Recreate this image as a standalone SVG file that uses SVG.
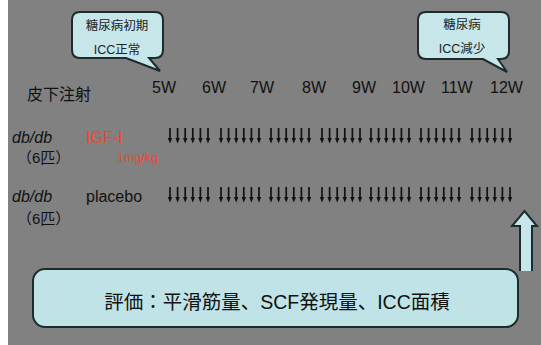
<svg xmlns="http://www.w3.org/2000/svg" xmlns:xlink="http://www.w3.org/1999/xlink" width="541" height="345" viewBox="0 0 541 345">
<style>
text{font-family:"Liberation Sans","Noto Sans CJK JP",sans-serif;fill:#111}
.bub{fill:#c6e6ea;stroke:#1c2b2b;stroke-width:2}
.bt{font-size:12.5px;text-anchor:middle;fill:#222}
.wk{font-size:16px}
.it{font-size:16px;font-style:italic}
.red{fill:#f0462e}
.ar line{stroke:#111;stroke-width:1.7}
.ar polygon{fill:#111}
</style>
<defs>
<g id="a" class="ar"><line x1="2" y1="0" x2="2" y2="11"/><polygon points="-0.2,10 4.2,10 2,15.5"/></g>
<g id="g6"><use xlink:href="#a"/><use xlink:href="#a" x="7.6"/><use xlink:href="#a" x="15.2"/><use xlink:href="#a" x="22.8"/><use xlink:href="#a" x="30.4"/><use xlink:href="#a" x="38"/></g>
<g id="row"><use xlink:href="#g6" x="168"/><use xlink:href="#g6" x="219"/><use xlink:href="#g6" x="269"/><use xlink:href="#g6" x="320"/><use xlink:href="#g6" x="369"/><use xlink:href="#g6" x="419"/><use xlink:href="#g6" x="470"/></g>
</defs>
<rect x="0" y="0" width="541" height="345" fill="#fff"/>
<rect x="8" y="0" width="533" height="345" fill="#818181"/>

<g id="callout1">
<path class="bub" d="M80,12 H155 Q163,12 163,20 V50 Q163,58 155,58 H149 L160,71 L126,58 H80 Q72,58 72,50 V20 Q72,12 80,12 Z"/>
<text class="bt" x="117" y="30">糖尿病初期</text>
<text class="bt" x="117" y="54">ICC正常</text>
</g>
<g id="callout2">
<path class="bub" d="M426,12 H501 Q509,12 509,20 V51 Q509,59 501,59 H498 L507,72 L483,59 H426 Q418,59 418,51 V20 Q418,12 426,12 Z"/>
<text class="bt" x="462" y="29">糖尿病</text>
<text class="bt" x="462" y="53">ICC減少</text>
</g>

<g id="weeks" class="wk">
<text x="152" y="93">5W</text>
<text x="202" y="93">6W</text>
<text x="250" y="93">7W</text>
<text x="302" y="93">8W</text>
<text x="352" y="93">9W</text>
<text x="392" y="93">10W</text>
<text x="441" y="93">11W</text>
<text x="490" y="93">12W</text>
</g>
<text x="27" y="100" style="font-size:16px">皮下注射</text>

<g id="igf">
<text class="it" x="12" y="143">db/db</text>
<text x="17" y="163" style="font-size:15px">（6匹）</text>
<text class="red" x="86" y="143" style="font-size:16px">IGF-I</text>
<text class="red" x="117" y="162" style="font-size:12.5px">1mg/kg</text>
<use xlink:href="#row" y="128"/>
</g>
<g id="placebo">
<text class="it" x="12" y="202">db/db</text>
<text x="17" y="224" style="font-size:15px">（6匹）</text>
<text x="86" y="202" style="font-size:16px">placebo</text>
<use xlink:href="#row" y="187"/>
</g>

<g id="connectors">
<path d="M520,271 V226 H512 L524.5,211 L537,226 H532 V271" fill="#c6e6ea" stroke="#1c2b2b" stroke-width="2"/>
</g>
<g id="eval">
<rect x="33" y="269" width="485" height="58" rx="12" fill="#bfe3e6" stroke="#1c2b2b" stroke-width="2"/>
<text x="277" y="309" style="font-size:19.5px" text-anchor="middle">評価：平滑筋量、SCF発現量、ICC面積</text>
</g>
</svg>
